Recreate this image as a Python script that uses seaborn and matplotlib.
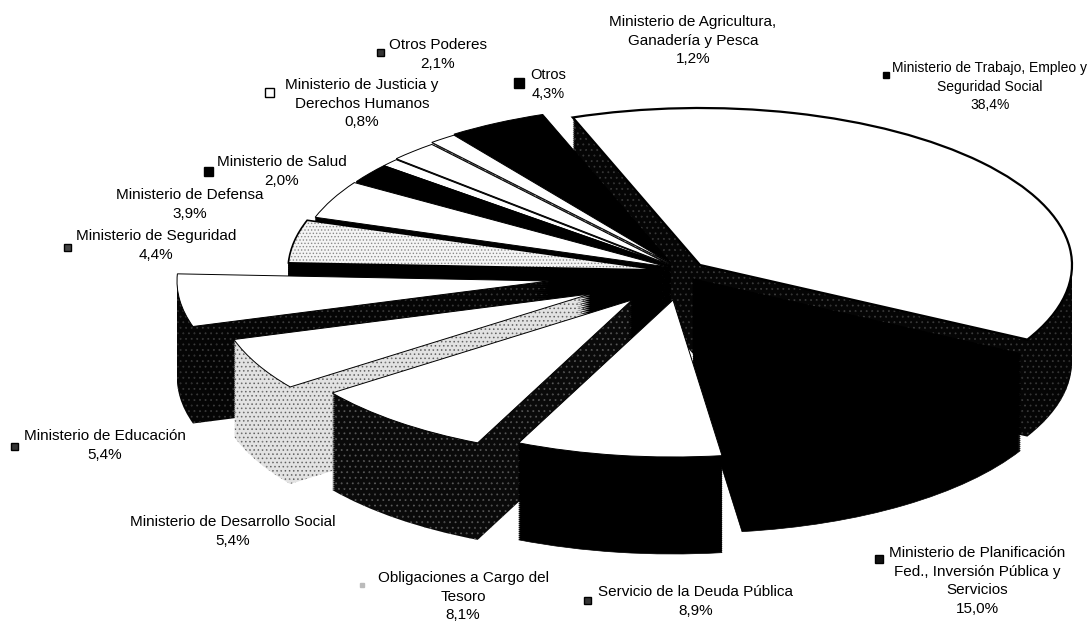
import matplotlib
matplotlib.use("Agg")
import matplotlib.pyplot as plt
from matplotlib.lines import Line2D
import seaborn as sns

# datos del gráfico
ministerios = [
    "Ministerio de Trabajo, Empleo y\nSeguridad Social",
    "Ministerio de Planificación\nFed., Inversión Pública y\nServicios",
    "Servicio de la Deuda Pública",
    "Obligaciones a Cargo del\nTesoro",
    "Ministerio de Desarrollo Social",
    "Ministerio de Educación",
    "Ministerio de Seguridad",
    "Ministerio de Defensa",
    "Ministerio de Salud",
    "Ministerio de Justicia y\nDerechos Humanos",
    "Otros Poderes",
    "Ministerio de Agricultura,\nGanadería y Pesca",
    "Otros",
]
porcentajes = [38.4, 15.0, 8.9, 8.1, 5.4, 5.4, 4.4, 3.9, 2.0, 0.8, 2.1, 1.2, 4.3]

# geometria en pixeles de la imagen
ANCHO, ALTO = 1089, 623
RADIO_X, RADIO_Y = 372, 157
ESCALA_Y = RADIO_Y / RADIO_X
PROFUNDIDAD = 97

# centro de cada porcion (pie separado)
centros = [(700, 265), (693, 279), (673, 300), (632, 300), (590, 294), (549, 281),
           (660, 270), (668, 267), (670, 266), (670, 266), (670, 265), (670, 263), (670, 262)]
tapas = ["white", "black", "white", "white", "white", "white", "#f4f4f4",
         "white", "black", "white", "white", "white", "black"]
paredes = ["#050505", "black", "black", "#0a0a0a", "#e2e2e2", "#050505", "black",
           "black", "black", "black", "black", "#555555", "black"]
tramas = ["#3c3c3c", None, None, "#5a5a5a", "#5c5c5c", "#3c3c3c", None,
          None, None, None, None, "#dddddd", None]
densidad = ["...", None, None, "...", "....", "...", None, None, None, None, None, "....", None]
# de atras hacia adelante
orden = [0, 1, 12, 11, 10, 9, 8, 7, 6, 5, 4, 3, 2]

# posicion de etiquetas: centro x, y primera linea
pos_texto = [(990, 68), (977, 553), (696, 592), (463, 578), (233, 522), (105, 436),
             (156, 236), (190, 195), (282, 162), (362, 85), (438, 45), (693, 22), (548, 75)]
tam_texto = [10, 11, 11, 11, 11, 11, 11, 11, 11, 11, 11, 11, 10.5]
marcas = [(886, 75), (879, 559), (587, 600), (362, 585), None, (14, 446),
          (67, 247), None, (208, 171), (269, 92), (380, 52), None, (519, 83)]
marca_color = ["black", "#111111", "#333333", "#bbbbbb", None, "#333333",
               "#444444", None, "black", "white", "#333333", None, "black"]
marca_tam = [6, 8, 7, 4, None, 7, 7, None, 9, 9, 7, None, 10]


def px(x, y):
    return x, (ALTO - y) / ESCALA_Y


def main():
    sns.set_theme(style="white")
    plt.rcParams["font.family"] = ["Liberation Sans", "DejaVu Sans"]
    plt.rcParams["hatch.linewidth"] = 0.6

    fig = plt.figure(figsize=(ANCHO / 100, ALTO / 100), dpi=100, facecolor="white")
    ax = fig.add_axes([0, 0, 1, 1])

    # las paredes se apilan capa por capa, la tapa es la ultima
    for d in list(range(PROFUNDIDAD, 0, -2)) + [0]:
        wedges, _ = ax.pie(porcentajes, radius=RADIO_X, startangle=110, counterclock=False)
        for i, w in enumerate(wedges):
            w.set_center(px(centros[i][0], centros[i][1] + d))
            w.set_zorder(orden.index(i) * 1000 + (PROFUNDIDAD - d))
            if d == 0:
                w.set_facecolor(tapas[i])
                w.set_edgecolor("black")
                w.set_linewidth(1.6 if i == 0 else 0.7)
                if i == 6:
                    w.set_hatch(".....")
                    w.set_edgecolor("#8a8a8a")
                    w.set_linewidth(0)
            elif tramas[i]:
                w.set_facecolor(paredes[i])
                w.set_edgecolor(tramas[i])
                w.set_hatch(densidad[i])
                w.set_linewidth(0)
            else:
                w.set_facecolor(paredes[i])
                w.set_edgecolor(paredes[i])
                w.set_linewidth(0.5)

    # borde de la porcion con trama
    wedges, _ = ax.pie(porcentajes, radius=RADIO_X, startangle=110, counterclock=False)
    for i, w in enumerate(wedges):
        if i == 6:
            w.set_center(px(*centros[i]))
            w.set_facecolor("none")
            w.set_edgecolor("black")
            w.set_linewidth(1.2)
            w.set_zorder(orden.index(i) * 1000 + PROFUNDIDAD + 1)
        else:
            w.remove()

    ax.set_aspect("auto")
    ax.set_xlim(0, ANCHO)
    ax.set_ylim(0, ALTO / ESCALA_Y)
    ax.axis("off")

    for i, nombre in enumerate(ministerios):
        valor = f"{porcentajes[i]:.1f}".replace(".", ",")
        x, y = pos_texto[i]
        espacio = 1.42 if tam_texto[i] == 10 else 1.41
        fig.text(x / ANCHO, 1 - (y - 7) / ALTO, f"{nombre}\n{valor}%", ha="center", va="top",
                 multialignment="center", fontsize=tam_texto[i], color="black", linespacing=espacio)
        if marcas[i]:
            mx, my = marcas[i]
            fig.add_artist(Line2D([mx / ANCHO], [1 - my / ALTO], marker="s", ls="none",
                                  markersize=marca_tam[i] * 0.72, mfc=marca_color[i],
                                  mec="black" if i != 3 else "#bbbbbb", mew=1,
                                  transform=fig.transFigure))

    fig.savefig("out.png", dpi=100, facecolor="white")


if __name__ == "__main__":
    main()
